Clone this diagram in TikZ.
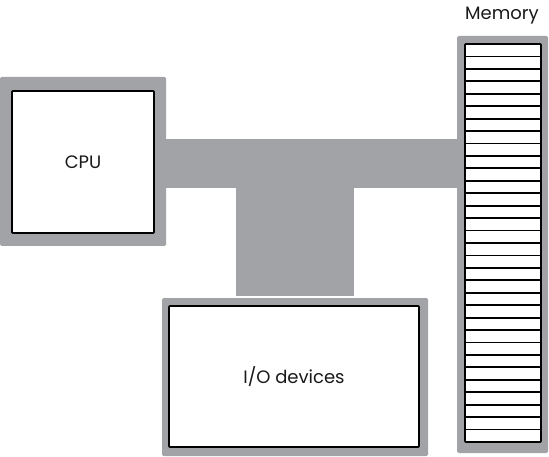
\documentclass[tikz,border=0pt]{standalone}
\usepackage{fontspec}
\setmainfont{Poppins}
\definecolor{busgray}{HTML}{A2A3A6}
\begin{document}
\begin{tikzpicture}[x=1pt,y=-1pt,
  outerbox/.style={fill=busgray,draw=none,rounded corners=1.5pt,inner sep=0pt,outer sep=0pt},
  innerbox/.style={fill=white,draw=black,line width=1.8pt,rounded corners=0.8pt,inner sep=0pt,outer sep=0pt},
  lbl/.style={font=\fontsize{18}{20}\selectfont,text=black!90}]
\useasboundingbox (0,0) rectangle (549,457);
% outer gray blocks
\node[outerbox,minimum width=166pt,minimum height=169pt] (cpuo) at (83,161.5) {};
\node[outerbox,minimum width=266pt,minimum height=158pt] (ioo) at (295,377) {};
\node[outerbox,minimum width=91pt,minimum height=417pt] (memo) at (502.5,244.5) {};
% bus
\coordinate (bl) at (cpuo.east |- 0,139);
\coordinate (br) at (memo.west |- 0,188);
\fill[busgray] ([xshift=-2pt]bl) rectangle ([xshift=2pt]br);
\coordinate (sl) at (236,186);
\coordinate (sr) at (ioo.north -| 354,0);
\fill[busgray] (sl) rectangle ([yshift=2pt]sr);
% inner boxes
\node[innerbox,minimum width=142pt,minimum height=142pt] (cpu) at (83,162) {};
\node[lbl] at (cpu.center) {CPU};
\node[innerbox,minimum width=250pt,minimum height=141pt] (io) at (294,376.5) {};
\node[lbl] at (io.center) {I/O devices};
\node[innerbox,minimum width=76pt,minimum height=398pt] (mem) at (503,243) {};
\foreach \i in {1,...,31}
  \draw[line width=1.8pt] ([yshift=-\i*12.4375pt]mem.north west) -- ([yshift=-\i*12.4375pt]mem.north east);
\node[lbl] (memlbl) at (502,16) {Memory};
\end{tikzpicture}
\end{document}
